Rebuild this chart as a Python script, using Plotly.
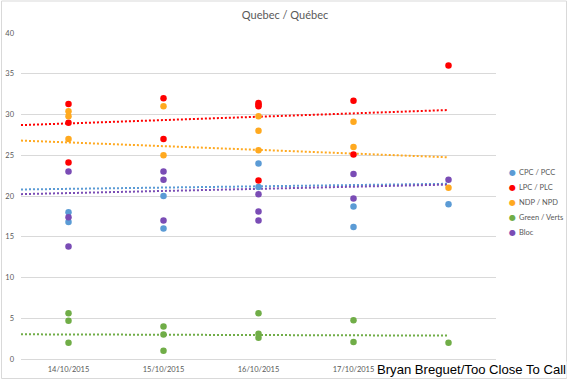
import plotly.graph_objects as go

# ---- data ----
dates = ["14/10/2015", "15/10/2015", "16/10/2015", "17/10/2015", "18/10/2015"]
parties = ["CPC / PCC", "LPC / PLC", "NDP / NPD", "Green / Verts", "Bloc"]
colors = ["#5B9BD5", "#FF0000", "#FFA91F", "#70AD47", "#7A4CB5"]

# poll results: date index (1..5) and value
cpc_x = [1, 1, 2, 2, 3, 3, 4, 4, 5]
cpc_y = [18.0, 16.8, 20.0, 16.0, 24.0, 21.1, 18.7, 16.2, 19.0]
lpc_x = [1, 1, 1, 2, 2, 3, 3, 3, 3, 4, 4, 5]
lpc_y = [31.3, 29.0, 24.1, 32.0, 27.0, 31.4, 31.2, 31.0, 21.9, 31.7, 25.1, 36.0]
ndp_x = [1, 1, 1, 2, 2, 3, 3, 3, 4, 4, 5]
ndp_y = [30.4, 29.8, 27.0, 31.0, 25.0, 29.8, 28.0, 25.6, 29.1, 26.0, 21.0]
grn_x = [1, 1, 1, 2, 2, 2, 3, 3, 3, 4, 4, 5]
grn_y = [5.6, 4.7, 2.0, 4.0, 3.0, 1.0, 5.6, 3.1, 2.6, 4.75, 2.1, 2.0]
blq_x = [1, 1, 1, 2, 2, 2, 3, 3, 3, 4, 4, 5]
blq_y = [23.0, 17.4, 13.8, 23.0, 22.0, 17.0, 20.2, 18.1, 17.0, 22.7, 19.7, 22.0]

# linear trendlines: value at the left edge and at the last date
trend_x = [0.5, 5]
trend_start = [20.8, 28.7, 26.8, 3.03, 20.23]
trend_end = [21.5, 30.55, 24.75, 2.87, 21.4]

series_x = [cpc_x, lpc_x, ndp_x, grn_x, blq_x]
series_y = [cpc_y, lpc_y, ndp_y, grn_y, blq_y]

GRAY = "#595959"
FONT = "Lato"

fig = go.Figure()

for i in range(len(parties)):
    fig.add_trace(go.Scatter(
        x=trend_x, y=[trend_start[i], trend_end[i]], mode="lines",
        line=dict(color=colors[i], width=2, dash="2px,2px"),
        showlegend=False, hoverinfo="skip"))

for i in range(len(parties)):
    fig.add_trace(go.Scatter(
        x=series_x[i], y=series_y[i], mode="markers", name=parties[i],
        marker=dict(color=colors[i], size=6.5, line=dict(width=0)),
        showlegend=False))

W, H = 570, 380
L, R, T, B = 21, 74, 33, 21
pw, ph = W - L - R, H - T - B

def px2x(px):
    return (px - L) / pw

def py2y(py):
    return (H - B - py) / ph

annotations = []
for i, name in enumerate(parties):
    yy = py2y(172 + 15 * i)
    annotations.append(dict(x=px2x(512), y=yy, xref="paper", yref="paper",
                            text="●", showarrow=False, xanchor="center", yanchor="middle",
                            font=dict(color=colors[i], size=8, family="DejaVu Sans")))
    annotations.append(dict(x=px2x(517), y=yy, xref="paper", yref="paper",
                            text=name, showarrow=False, xanchor="left", yanchor="middle",
                            font=dict(color=GRAY, size=7.5, family=FONT)))

annotations.append(dict(x=px2x(566.5), y=py2y(378), xref="paper", yref="paper",
                        text="Bryan Breguet/Too Close To Call", showarrow=False,
                        xanchor="right", yanchor="bottom", bgcolor="white", borderpad=0,
                        font=dict(color="black", size=13.1, family="Liberation Sans")))

fig.update_layout(
    template="none",
    width=W, height=H, autosize=False,
    margin=dict(l=L, r=R, t=T, b=B, pad=0, autoexpand=False),
    paper_bgcolor="white", plot_bgcolor="white",
    title=dict(text="Quebec / Québec", x=0.5, xref="container", xanchor="center",
               y=1 - 15 / H, yref="container", yanchor="middle",
               font=dict(size=11, color=GRAY, family=FONT)),
    showlegend=False,
    annotations=annotations,
    shapes=[dict(type="rect", xref="paper", yref="paper",
                 x0=px2x(1.5), x1=px2x(566.5), y0=py2y(378.5), y1=py2y(1),
                 line=dict(color="#D9D9D9", width=1), fillcolor="rgba(0,0,0,0)",
                 layer="below")],
    xaxis=dict(range=[0.5, 5.5], tickvals=[1, 2, 3, 4, 5], ticktext=dates,
               automargin=False,
               showgrid=False, zeroline=False, showline=True, linecolor="#D9D9D9",
               linewidth=1, ticks="", ticklabelstandoff=3,
               tickfont=dict(size=7.5, color=GRAY, family=FONT)),
    yaxis=dict(range=[0, 40], dtick=5, tick0=0, showgrid=True, gridcolor="#D9D9D9",
               automargin=False,
               gridwidth=1, zeroline=False, showline=False, ticks="",
               ticklabelstandoff=6,
               tickfont=dict(size=7.5, color=GRAY, family=FONT)),
)

fig.write_html("out.html", config={"displayModeBar": False},
               post_script="document.body.style.margin='0px';"
                           "document.body.style.overflow='hidden';")
